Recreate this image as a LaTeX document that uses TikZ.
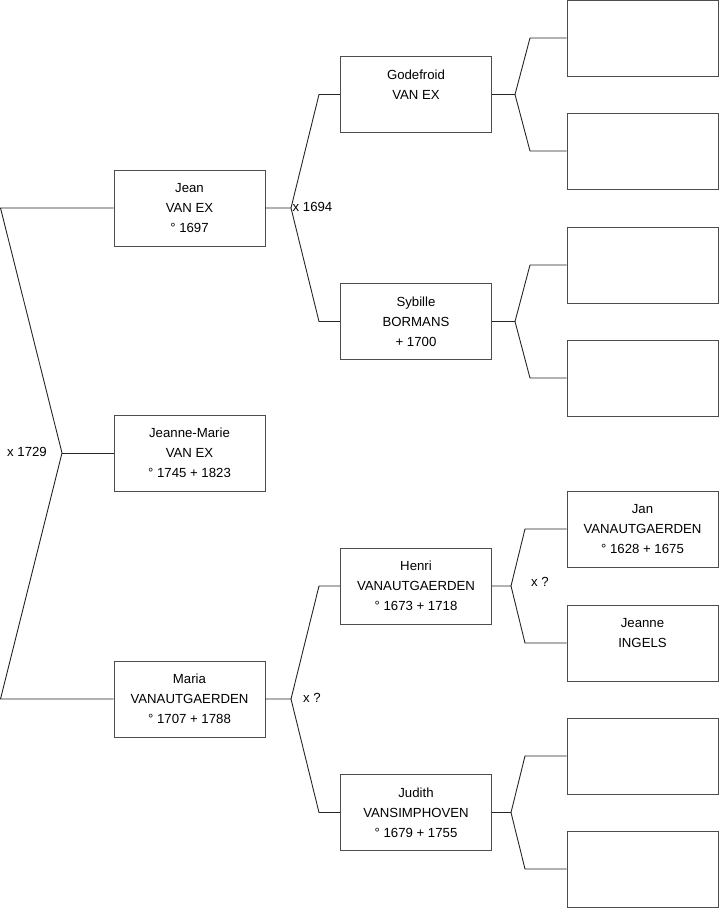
\documentclass[tikz,border=0pt]{standalone}
\usepackage{fontspec}
\setmainfont{Liberation Sans}
\usetikzlibrary{positioning}
\tikzset{
  pers/.style={draw=black!70,line width=0.9pt,minimum width=151pt,minimum height=76pt,
    inner sep=0pt,align=center,font=\fontsize{13.2}{20}\selectfont},
  unk/.style={pers},
  lnk/.style={draw=black!85,line width=0.9pt},
  mar/.style={font=\fontsize{13.2}{15}\selectfont,inner sep=1pt},
}

\begin{document}
\begin{tikzpicture}[x=1pt,y=-1pt]
\useasboundingbox (0,0) rectangle (719,908);
% generation 1
\node[pers] (jean) at (189.5,208) {Jean\\VAN EX\\° 1697};
\node[pers] (jm) at (189.5,453) {Jeanne-Marie\\VAN EX\\° 1745 + 1823};
\node[pers] (maria) at (189.5,699) {Maria\\VANAUTGAERDEN\\° 1707 + 1788};
% generation 2
\node[pers] (god) at (416,94.5) {Godefroid\\VAN EX\\~};
\node[pers] (syb) at (416,321.5) {Sybille\\BORMANS\\+ 1700};
\node[pers] (henri) at (416,586) {Henri\\VANAUTGAERDEN\\° 1673 + 1718};
\node[pers] (jud) at (416,812.5) {Judith\\VANSIMPHOVEN\\° 1679 + 1755};
% generation 3
\node[unk] (g1) at (642.5,38) {};
\node[unk] (g2) at (642.5,151) {};
\node[unk] (g3) at (642.5,265) {};
\node[unk] (g4) at (642.5,378) {};
\node[pers] (jan) at (642.5,529) {Jan\\VANAUTGAERDEN\\° 1628 + 1675};
\node[pers] (jea) at (642.5,643) {Jeanne\\INGELS\\~};
\node[unk] (g7) at (642.5,756) {};
\node[unk] (g8) at (642.5,869) {};

% brackets
\coordinate (t0) at (0.5,208);
\coordinate (v0) at (62,453);
\coordinate (b0) at (0.5,699);
\draw[lnk] (jean.west) -- (t0) -- (v0) -- (b0) -- (maria.west);
\draw[lnk] (v0) -- (jm.west);
\node[mar,left=14pt of v0,yshift=1pt] {x 1729};

\coordinate (vj) at (291,208);
\draw[lnk] (jean.east) -- (vj) -- (319,94.5) -- (god.west);
\draw[lnk] (vj) -- (319,321.5) -- (syb.west);
\node[mar,right=0.5pt of vj,yshift=1pt] {x 1694};

\coordinate (vm) at (291,699);
\draw[lnk] (maria.east) -- (vm) -- (319,586) -- (henri.west);
\draw[lnk] (vm) -- (319,812.5) -- (jud.west);
\node[mar,right=11pt of vm,yshift=1pt] {x ?};

\coordinate (vg) at (515,94.5);
\draw[lnk] (god.east) -- (vg) -- (530,38) -- (g1.west);
\draw[lnk] (vg) -- (530,151) -- (g2.west);

\coordinate (vs) at (515,321.5);
\draw[lnk] (syb.east) -- (vs) -- (530,265) -- (g3.west);
\draw[lnk] (vs) -- (530,378) -- (g4.west);

\coordinate (vh) at (511,586);
\draw[lnk] (henri.east) -- (vh) -- (525,529) -- (jan.west);
\draw[lnk] (vh) -- (525,643) -- (jea.west);
\node[mar,right=19pt of vh,yshift=4pt] {x ?};

\coordinate (vd) at (511,812.5);
\draw[lnk] (jud.east) -- (vd) -- (525,756) -- (g7.west);
\draw[lnk] (vd) -- (525,869) -- (g8.west);
\end{tikzpicture}
\end{document}
